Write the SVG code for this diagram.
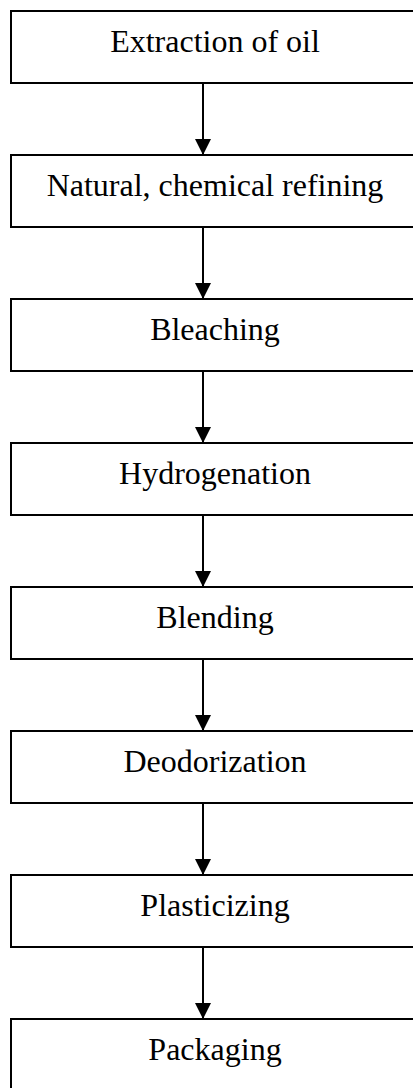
<svg xmlns="http://www.w3.org/2000/svg" width="413" height="1088" viewBox="0 0 413 1088">
  <style>
    .box { fill: #ffffff; stroke: #000000; stroke-width: 2; }
    .label { font-family: "Liberation Serif", "Times New Roman", serif; font-size: 32px; fill: #000000; text-anchor: middle; }
    .link { stroke: #000000; stroke-width: 2; fill: none; marker-end: url(#arrow); }
  </style>
  <defs>
    <marker id="arrow" markerUnits="userSpaceOnUse" markerWidth="16" markerHeight="16" viewBox="0 0 16 16" refX="16" refY="8" orient="auto">
      <path d="M0,0 L16,8 L0,16 Z" fill="#000000"/>
    </marker>
  </defs>
  <rect width="413" height="1088" fill="#ffffff"/>

  <g id="connectors">
    <line class="link" x1="203" y1="83" x2="203" y2="155"/>
    <line class="link" x1="203" y1="227" x2="203" y2="299"/>
    <line class="link" x1="203" y1="371" x2="203" y2="443"/>
    <line class="link" x1="203" y1="515" x2="203" y2="587"/>
    <line class="link" x1="203" y1="659" x2="203" y2="731"/>
    <line class="link" x1="203" y1="803" x2="203" y2="875"/>
    <line class="link" x1="203" y1="947" x2="203" y2="1019"/>
  </g>

  <g id="extraction">
    <rect class="box" x="11" y="11" width="420" height="72"/>
    <text class="label" x="215" y="52">Extraction of oil</text>
  </g>
  <g id="refining">
    <rect class="box" x="11" y="155" width="420" height="72"/>
    <text class="label" x="215" y="196">Natural, chemical refining</text>
  </g>
  <g id="bleaching">
    <rect class="box" x="11" y="299" width="420" height="72"/>
    <text class="label" x="215" y="340">Bleaching</text>
  </g>
  <g id="hydrogenation">
    <rect class="box" x="11" y="443" width="420" height="72"/>
    <text class="label" x="215" y="484">Hydrogenation</text>
  </g>
  <g id="blending">
    <rect class="box" x="11" y="587" width="420" height="72"/>
    <text class="label" x="215" y="628">Blending</text>
  </g>
  <g id="deodorization">
    <rect class="box" x="11" y="731" width="420" height="72"/>
    <text class="label" x="215" y="772">Deodorization</text>
  </g>
  <g id="plasticizing">
    <rect class="box" x="11" y="875" width="420" height="72"/>
    <text class="label" x="215" y="916">Plasticizing</text>
  </g>
  <g id="packaging">
    <rect class="box" x="11" y="1019" width="420" height="72"/>
    <text class="label" x="215" y="1060">Packaging</text>
  </g>
</svg>
